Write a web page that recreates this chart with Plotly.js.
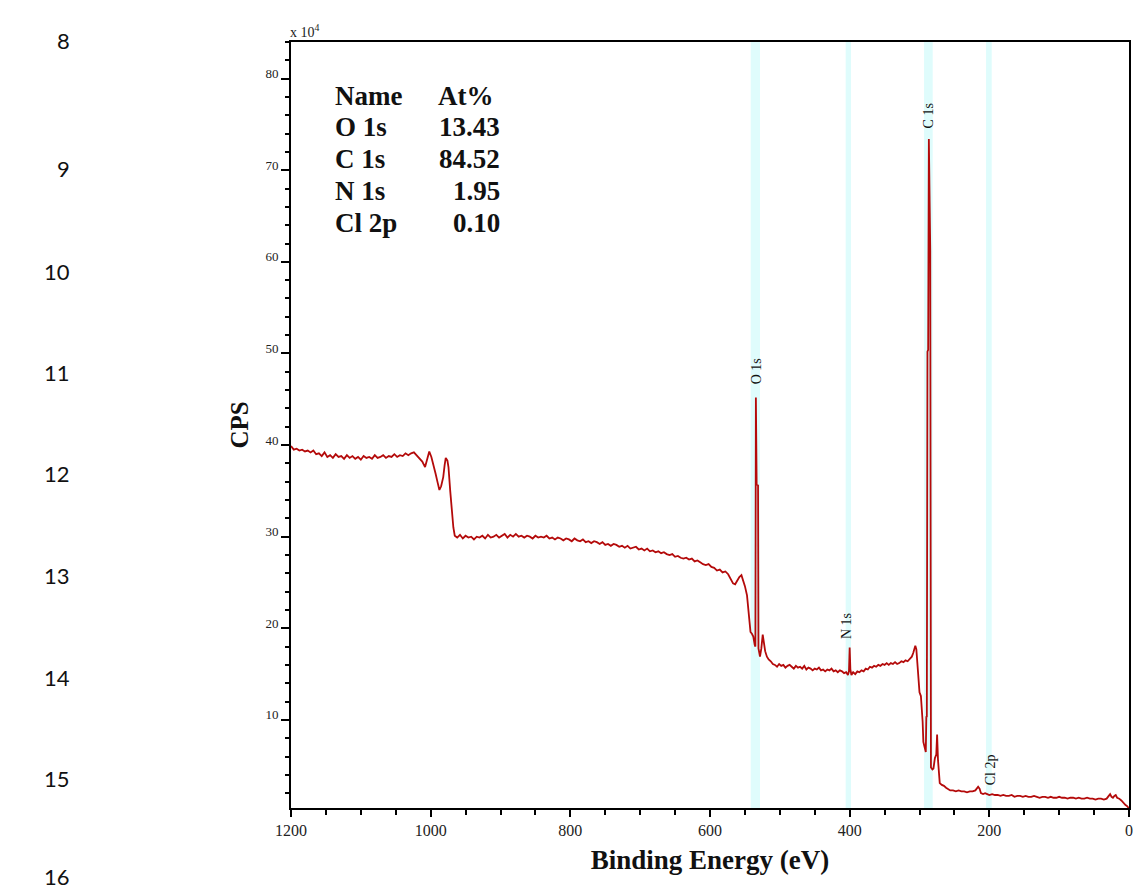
<!DOCTYPE html>
<html>
<head>
<meta charset="utf-8">
<script src="https://cdn.plot.ly/plotly-3.0.1.min.js"></script>
<style>html,body{margin:0;padding:0;background:#fff;}#chart{width:1133px;height:892px;}</style>
</head>
<body>
<div id="chart"></div>
<script>
// Binding energy (eV)
const bindingEnergy = [
1200,1196,1192,1188,1184,1180,1176,1172,1168,1164,1160,1156,1152,1148,1144,1140,1136,1132,1128,1124,
1120,1116,1112,1108,1104,1100,1096,1092,1088,1084,1080,1076,1072,1068,1064,1060,1056,1052,1048,1044,
1040,1036,1032,1028,1024,1020,1016,1012,1008,1005,1002,999,996,993,990,987.5,985,982,980,978.4,
976,974.5,972,970,967.5,965.5,962,958,954,950,946,942,938,934,930,926,922,918,914,910,
906,902,898,894,890,886,882,878,874,870,866,862,858,854,850,846,842,838,834,830,
826,822,818,814,810,806,802,798,794,790,786,782,778,774,770,766,762,758,754,750,
746,742,738,734,730,726,722,718,714,710,706,702,698,694,690,686,682,678,674,670,
666,662,658,654,650,646,642,638,634,630,626,622,618,614,610,606,602,598,594,590,
586,582,578,574,570,567,564,561,558,555,552,550,547,545,542,540,538,536,535,534.3,
533.2,531.2,530.6,528.4,526.5,524.5,523,521,518.5,516,513,510,507,504,501,498,495,492,489,486,
483,480,477,474,471,468,465,462,459,456,453,450,447,444,441,438,435,432,429,426,
423,420,417,414,411,408,405,402.5,401,400,399,397.5,395,392,389,386,383,380,377,374,
371,368,365,362,359,356,353,350,347,344,341,338,335,332,329,326,323,320,317,314,
311,309,307.5,306,304.5,303,302,300,298,296.8,295.5,294.5,292.5,291,290.2,289.5,288.6,287.6,286.6,285.6,
284.6,283.6,281.5,280,278,276,274.8,273.5,271,268,265,262,259,256,252,248,244,240,236,232,
228,224,220,218,216,214,212,209,206,203,200,196,192,188,184,180,176,172,168,164,
160,156,152,148,144,140,136,132,128,124,120,116,112,108,104,100,96,92,88,84,
80,76,72,68,64,60,56,52,48,44,40,36,32,29,27,25,23,21,19,17,
14,11,9,7,5,3,1.5,0
];
// Intensity in units of 10^4 counts per second
const cpsE4 = [
39.9,39.5,39.6,39.4,39.5,39.3,39.4,39.2,39.4,39.0,39.1,38.8,39.2,38.7,38.9,38.6,39.0,38.7,38.8,38.5,
38.9,38.6,38.8,38.5,38.7,38.4,38.8,38.6,38.7,38.5,38.9,38.6,38.7,38.9,38.6,38.8,38.7,39.0,38.7,38.9,
38.8,39.1,38.9,39.1,39.2,38.9,38.6,38.2,37.6,38.4,39.3,38.7,37.9,36.9,35.9,35.1,35.5,36.5,37.8,38.6,
38.3,37.6,35.0,33.0,31.0,30.1,29.9,30.2,29.8,30.1,29.9,30.0,29.7,30.0,29.9,30.1,29.8,30.2,29.9,30.0,
30.2,29.9,30.1,30.3,29.9,30.2,30.0,30.3,30.0,30.1,29.9,30.1,30.0,29.8,30.1,29.9,30.0,29.9,30.1,29.8,
29.9,29.7,29.9,29.8,29.6,29.8,29.7,29.5,29.8,29.6,29.5,29.7,29.4,29.5,29.3,29.5,29.4,29.2,29.4,29.1,
29.2,29.0,29.2,29.1,28.9,29.0,28.8,29.0,28.7,28.8,28.9,28.6,28.7,28.5,28.7,28.4,28.5,28.3,28.4,28.2,
28.3,28.1,28.0,28.1,27.8,27.9,27.7,27.6,27.7,27.5,27.6,27.3,27.4,27.2,27.0,26.9,27.0,26.7,26.6,26.3,
26.4,26.1,26.2,25.9,25.4,24.9,24.8,25.2,25.6,25.8,25.1,24.6,23.6,21.7,19.6,19.4,19.1,18.2,18.0,45.2,
35.7,35.6,17.8,16.9,17.8,19.3,18.2,17.5,16.9,16.6,16.4,16.1,16.0,15.8,16.1,15.9,16.0,15.7,15.9,16.0,
15.8,15.6,15.9,15.7,15.8,15.6,15.9,15.5,15.7,15.6,15.4,15.6,15.5,15.7,15.4,15.5,15.3,15.5,15.4,15.6,
15.3,15.4,15.2,15.4,15.3,15.1,15.2,14.9,15.3,17.9,15.5,14.9,15.2,15.0,15.3,15.2,15.4,15.3,15.6,15.5,
15.8,15.7,15.9,15.8,16.0,15.9,16.1,16.0,16.2,16.0,16.2,16.1,16.3,16.1,16.2,16.4,16.3,16.5,16.4,16.7,
16.9,17.3,17.6,18.1,17.7,16.2,15.1,13.0,12.6,11.5,9.8,7.6,7.0,6.5,10.4,10.3,50.2,50.4,73.4,61.6,
61.2,4.8,4.6,4.7,5.8,6.2,8.4,5.6,3.1,2.9,2.8,2.6,2.4,2.3,2.3,2.2,2.3,2.2,2.2,2.1,
2.2,2.2,2.3,2.5,2.7,2.5,2.0,1.9,2.0,1.9,1.8,1.9,1.8,1.8,1.7,1.8,1.7,1.7,1.8,1.6,
1.7,1.7,1.6,1.7,1.6,1.6,1.7,1.6,1.5,1.6,1.6,1.5,1.6,1.5,1.5,1.6,1.5,1.5,1.4,1.5,
1.5,1.4,1.5,1.4,1.4,1.5,1.4,1.4,1.3,1.4,1.4,1.3,1.4,1.7,1.9,1.6,1.5,1.7,1.8,1.5,
1.4,1.2,1.0,0.8,0.7,0.6,0.4,0.35
];

// Peak identification bands and labels
const peakNames = ['O 1s', 'N 1s', 'C 1s', 'Cl 2p'];
const peakBandLow = [528.4, 398.1, 281.1, 196.6];
const peakBandHigh = [541.7, 405.7, 293.5, 204.7];
const peakLabelEnergy = [533.3, 404.4, 287.5, 199.0];
const peakLabelLevel = [48.0, 20.2, 75.9, 4.5];

// Quantification table
const tableHeader = ['Name', 'At%'];
const tableNames = ['O 1s', 'C 1s', 'N 1s', 'Cl 2p'];
const tableAtPercent = ['13.43', '84.52', '1.95', '0.10'];

// Document line numbers in the left margin
const lineNumbers = ['8', '9', '10', '11', '12', '13', '14', '15', '16'];

const serif = 'Liberation Serif, Times New Roman, serif';
const plotL = 291, plotR = 1129, plotT = 42, plotB = 808;
const px2paperX = p => (p - plotL) / (plotR - plotL);
const px2paperY = p => (plotB - p) / (plotB - plotT);

const shapes = peakNames.map((n, i) => ({
  type: 'rect', xref: 'x', yref: 'paper', layer: 'below',
  x0: peakBandLow[i], x1: peakBandHigh[i], y0: 0, y1: 1,
  fillcolor: '#dffcfc', line: {width: 0}
}));

const annotations = [];
peakNames.forEach((n, i) => annotations.push({
  xref: 'x', yref: 'y', x: peakLabelEnergy[i], y: peakLabelLevel[i],
  text: n, showarrow: false, textangle: -90,
  xanchor: 'center', yanchor: 'middle',
  font: {family: serif, size: 14, color: '#111'}
}));

// table
const rowY = [96, 127, 159, 191, 223];
const tableFont = {family: serif, size: 27, color: '#111', weight: 'bold'};
annotations.push({xref: 'paper', yref: 'paper', x: px2paperX(333), y: px2paperY(rowY[0]),
  text: tableHeader[0], showarrow: false, xanchor: 'left', yanchor: 'middle', font: tableFont});
annotations.push({xref: 'paper', yref: 'paper', x: px2paperX(496), y: px2paperY(rowY[0]),
  text: tableHeader[1], showarrow: false, xanchor: 'right', yanchor: 'middle', font: tableFont});
tableNames.forEach((n, i) => {
  annotations.push({xref: 'paper', yref: 'paper', x: px2paperX(333), y: px2paperY(rowY[i + 1]),
    text: n, showarrow: false, xanchor: 'left', yanchor: 'middle', font: tableFont});
  annotations.push({xref: 'paper', yref: 'paper', x: px2paperX(502), y: px2paperY(rowY[i + 1]),
    text: tableAtPercent[i], showarrow: false, xanchor: 'right', yanchor: 'middle', font: tableFont});
});

// multiplier label
annotations.push({xref: 'paper', yref: 'paper', x: px2paperX(288), y: px2paperY(31),
  text: 'x 10<sup>4</sup>', showarrow: false, xanchor: 'left', yanchor: 'middle',
  font: {family: serif, size: 14, color: '#222'}});

// line numbers
const lineNumY = [41, 168, 271, 372, 473, 575, 677, 778, 876];
lineNumbers.forEach((t, i) => annotations.push({
  xref: 'paper', yref: 'paper', x: px2paperX(71), y: px2paperY(lineNumY[i]),
  text: t, showarrow: false, xanchor: 'right', yanchor: 'middle', borderpad: 0,
  font: {family: 'Lato, Open Sans, sans-serif', size: 22, color: '#111'}
}));

const trace = {
  x: bindingEnergy, y: cpsE4, type: 'scatter', mode: 'lines',
  line: {color: '#b40a0a', width: 1.8}, hoverinfo: 'x+y'
};

const layout = {
  width: 1133, height: 892,
  margin: {l: plotL, r: 1133 - plotR, t: plotT, b: 892 - plotB, pad: 0},
  paper_bgcolor: '#fff', plot_bgcolor: '#fff',
  showlegend: false,
  xaxis: {
    range: [1200, 0], tick0: 0, dtick: 200,
    ticks: 'outside', ticklen: 7, tickwidth: 2, tickcolor: '#000',
    showline: true, linecolor: '#000', linewidth: 2, mirror: true,
    showgrid: false, zeroline: false,
    tickfont: {family: serif, size: 16, color: '#222'},
    minor: {dtick: 50, ticks: 'outside', ticklen: 5, tickwidth: 2, tickcolor: '#000', showgrid: false},
    title: {text: 'Binding Energy (eV)', standoff: 12,
      font: {family: serif, size: 27, color: '#111', weight: 'bold'}}
  },
  yaxis: {
    range: [0.38, 84.0], tick0: 0, dtick: 10,
    ticks: 'outside', ticklen: 8, tickwidth: 2, tickcolor: '#000',
    ticklabelshift: -5, ticklabelstandoff: 0,
    showline: true, linecolor: '#000', linewidth: 2, mirror: true,
    showgrid: false, zeroline: false,
    tickfont: {family: serif, size: 13, color: '#222'},
    minor: {dtick: 2, ticks: 'outside', ticklen: 4, tickwidth: 2, tickcolor: '#000', showgrid: false},
    title: {text: 'CPS', standoff: 10,
      font: {family: serif, size: 25, color: '#111', weight: 'bold'}}
  },
  shapes: shapes,
  annotations: annotations
};

Plotly.newPlot('chart', [trace], layout, {displayModeBar: false, staticPlot: true});
</script>
</body>
</html>
